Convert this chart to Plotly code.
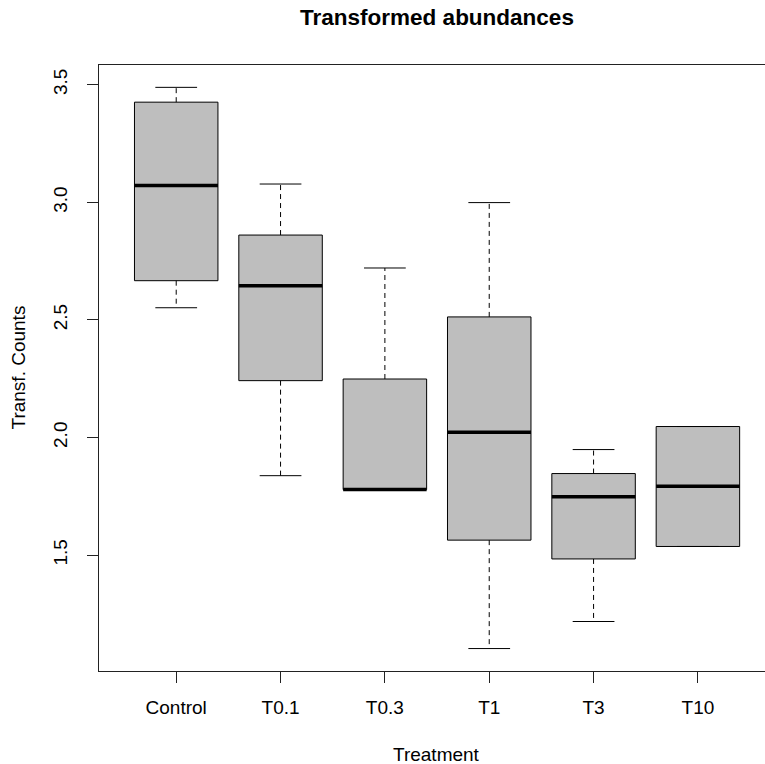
import plotly.graph_objects as go

# ---- data ----
categories = ["Control", "T0.1", "T0.3", "T1", "T3", "T10"]
lower_whisker = [2.552, 1.838, 1.779, 1.103, 1.218, 1.537]
q1 = [2.667, 2.242, 1.779, 1.564, 1.484, 1.537]
median = [3.072, 2.646, 1.779, 2.023, 1.748, 1.793]
q3 = [3.426, 2.861, 2.249, 2.513, 1.847, 2.047]
upper_whisker = [3.489, 3.078, 2.721, 2.999, 1.949, 2.047]
y_tick_vals = [1.5, 2.0, 2.5, 3.0, 3.5]
y_tick_text = ["1.5", "2.0", "2.5", "3.0", "3.5"]

FONT = "Liberation Sans, Arial, Helvetica, sans-serif"
BOX_HALF = 0.4
CAP_HALF = 0.2
FILL = "#BEBEBE"
LINE = "#000000"

xs = list(range(1, len(categories) + 1))

fig = go.Figure()

# boxes
for i, x in enumerate(xs):
    fig.add_trace(go.Scatter(
        x=[x - BOX_HALF, x + BOX_HALF, x + BOX_HALF, x - BOX_HALF, x - BOX_HALF],
        y=[q1[i], q1[i], q3[i], q3[i], q1[i]],
        mode="lines", fill="toself", fillcolor=FILL,
        line=dict(color=LINE, width=1), hoverinfo="skip", showlegend=False))

# dashed whiskers
wx, wy = [], []
for i, x in enumerate(xs):
    if upper_whisker[i] > q3[i]:
        wx += [x, x, None]
        wy += [q3[i], upper_whisker[i], None]
    if lower_whisker[i] < q1[i]:
        wx += [x, x, None]
        wy += [q1[i], lower_whisker[i], None]
fig.add_trace(go.Scatter(x=wx, y=wy, mode="lines",
                         line=dict(color=LINE, width=1, dash="5px,4px"),
                         hoverinfo="skip", showlegend=False))

# caps
cx, cy = [], []
for i, x in enumerate(xs):
    cx += [x - CAP_HALF, x + CAP_HALF, None, x - CAP_HALF, x + CAP_HALF, None]
    cy += [upper_whisker[i], upper_whisker[i], None, lower_whisker[i], lower_whisker[i], None]
fig.add_trace(go.Scatter(x=cx, y=cy, mode="lines",
                         line=dict(color=LINE, width=1),
                         hoverinfo="skip", showlegend=False))

# medians
mx, my = [], []
for i, x in enumerate(xs):
    mx += [x - BOX_HALF, x + BOX_HALF, None]
    my += [median[i], median[i], None]
fig.add_trace(go.Scatter(x=mx, y=my, mode="lines",
                         line=dict(color=LINE, width=3.5),
                         hoverinfo="skip", showlegend=False))

fig.update_layout(
    width=765, height=764,
    margin=dict(l=99, r=0, t=65, b=93),
    paper_bgcolor="white", plot_bgcolor="white",
    font=dict(family=FONT, size=19, color="black"),
    title=dict(text="<b>Transformed abundances</b>", x=0.5075, xref="paper",
               xanchor="center", y=1 - 17.5 / 764, yref="container", yanchor="middle",
               font=dict(family=FONT, size=22.5, color="black")),
    showlegend=False,
    xaxis=dict(range=[0.26, 6.643], tickvals=xs, ticktext=categories,
               showgrid=False, zeroline=False, showline=True, mirror=True,
               linecolor="#222", linewidth=1, ticks="outside", ticklen=11,
               tickcolor="#222", tickfont=dict(size=19), ticklabelstandoff=8),
    yaxis=dict(range=[1.0076, 3.584], tickvals=y_tick_vals, ticktext=y_tick_text,
               showgrid=False, zeroline=False, showline=True, mirror=False,
               linecolor="#222", linewidth=1, ticks="outside", ticklen=11,
               tickcolor="#222", tickangle=-90, tickfont=dict(size=19),
               ticklabelstandoff=12),
    annotations=[
        dict(text="Treatment", xref="paper", yref="paper",
             x=0.5075, y=-(754 - 671) / 606, xanchor="center", yanchor="middle",
             showarrow=False, font=dict(family=FONT, size=19, color="black")),
        dict(text="Transf. Counts", xref="paper", yref="paper",
             x=-(99 - 17.5) / 666, y=0.5, xanchor="center", yanchor="middle",
             textangle=-90, showarrow=False,
             font=dict(family=FONT, size=19, color="black")),
    ],
)

fig.write_html("out.html", config={"displayModeBar": False})
